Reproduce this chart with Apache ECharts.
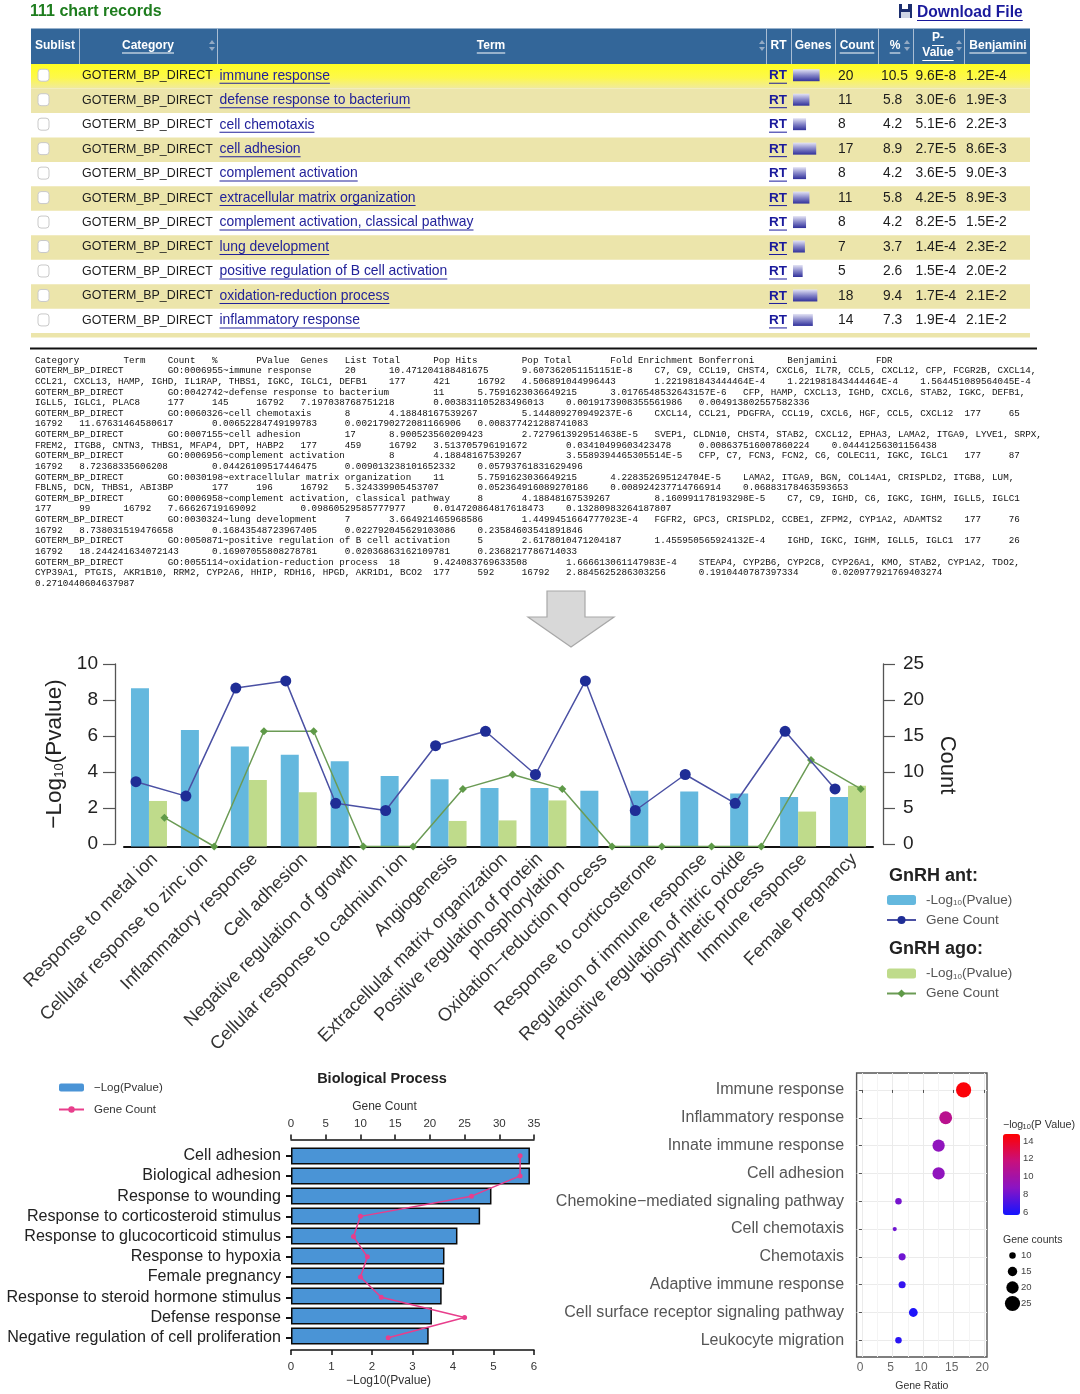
<!DOCTYPE html>
<html><head><meta charset="utf-8">
<style>html,body{margin:0;padding:0;background:#fff}#c{width:1080px;height:1394px}</style>
<script src="https://cdn.jsdelivr.net/npm/echarts@6/dist/echarts.min.js"></script>
</head><body><div id="c"></div>
<script>
// ---------- table data ----------
const tableHeaders = ['Sublist','Category','Term','RT','Genes','Count','%','P-\nValue','Benjamini'];
const tableTerms = ['immune response','defense response to bacterium','cell chemotaxis','cell adhesion','complement activation','extracellular matrix organization','complement activation, classical pathway','lung development','positive regulation of B cell activation','oxidation-reduction process','inflammatory response'];
const tableCounts = [20,11,8,17,8,11,8,7,5,18,14];
const tablePercents = ['10.5','5.8','4.2','8.9','4.2','5.8','4.2','3.7','2.6','9.4','7.3'];
const tablePvalues = ['9.6E-8','3.0E-6','5.1E-6','2.7E-5','3.6E-5','4.2E-5','8.2E-5','1.4E-4','1.5E-4','1.7E-4','1.9E-4'];
const tableBenjamini = ['1.2E-4','1.9E-3','2.2E-3','8.6E-3','9.0E-3','8.9E-3','1.5E-2','2.3E-2','2.0E-2','2.1E-2','2.1E-2'];
const exportLines = [
'Category\tTerm\tCount\t%\tPValue\tGenes\tList Total\tPop Hits\tPop Total\tFold Enrichment\tBonferroni\tBenjamini\tFDR',
'GOTERM_BP_DIRECT\tGO:0006955~immune response\t20\t10.471204188481675\t9.607362051151151E-8\tC7, C9, CCL19, CHST4, CXCL6, IL7R, CCL5, CXCL12, CFP, FCGR2B, CXCL14,',
'CCL21, CXCL13, HAMP, IGHD, IL1RAP, THBS1, IGKC, IGLC1, DEFB1\t177\t421\t16792\t4.506891044996443\t1.221981843444464E-4\t1.221981843444464E-4\t1.564451089564045E-4',
'GOTERM_BP_DIRECT\tGO:0042742~defense response to bacterium\t11\t5.7591623036649215\t3.0176548532643157E-6\tCFP, HAMP, CXCL13, IGHD, CXCL6, STAB2, IGKC, DEFB1,',
'IGLL5, IGLC1, PLAC8\t177\t145\t16792\t7.197038768751218\t0.003831105283496013\t0.0019173908355561986\t0.004913802557582336',
'GOTERM_BP_DIRECT\tGO:0060326~cell chemotaxis\t8\t4.18848167539267\t5.144809270949237E-6\tCXCL14, CCL21, PDGFRA, CCL19, CXCL6, HGF, CCL5, CXCL12\t177\t65',
'16792\t11.67631464580617\t0.00652284749199783\t0.0021790272081166906\t0.008377421288741083',
'GOTERM_BP_DIRECT\tGO:0007155~cell adhesion\t17\t8.900523560209423\t2.7279613929514638E-5\tSVEP1, CLDN10, CHST4, STAB2, CXCL12, EPHA3, LAMA2, ITGA9, LYVE1, SRPX,',
'FREM2, ITGB8, CNTN3, THBS1, MFAP4, DPT, HABP2\t177\t459\t16792\t3.513705796191672\t0.03410499603423478\t0.008637516007860224\t0.04441256301156438',
'GOTERM_BP_DIRECT\tGO:0006956~complement activation\t8\t4.18848167539267\t3.5589394465305514E-5\tCFP, C7, FCN3, FCN2, C6, COLEC11, IGKC, IGLC1\t177\t87',
'16792\t8.72368335606208\t0.04426109517446475\t0.009013238101652332\t0.05793761831629496',
'GOTERM_BP_DIRECT\tGO:0030198~extracellular matrix organization\t11\t5.7591623036649215\t4.228352695124704E-5\tLAMA2, ITGA9, BGN, COL14A1, CRISPLD2, ITGB8, LUM,',
'FBLN5, DCN, THBS1, ABI3BP\t177\t196\t16792\t5.324339905453707\t0.052364916089270186\t0.008924237714766914\t0.06883178463593653',
'GOTERM_BP_DIRECT\tGO:0006958~complement activation, classical pathway\t8\t4.18848167539267\t8.160991178193298E-5\tC7, C9, IGHD, C6, IGKC, IGHM, IGLL5, IGLC1',
'177\t99\t16792\t7.66626719169092\t0.09860529585777977\t0.014720864817618473\t0.13280983264187807',
'GOTERM_BP_DIRECT\tGO:0030324~lung development\t7\t3.664921465968586\t1.4499451664777023E-4\tFGFR2, GPC3, CRISPLD2, CCBE1, ZFPM2, CYP1A2, ADAMTS2\t177\t76',
'16792\t8.738031519476658\t0.16843548723967405\t0.022792045629103086\t0.23584603541891846',
'GOTERM_BP_DIRECT\tGO:0050871~positive regulation of B cell activation\t5\t2.6178010471204187\t1.455950565924132E-4\tIGHD, IGKC, IGHM, IGLL5, IGLC1\t177\t26',
'16792\t18.244241634072143\t0.16907055808278781\t0.02036863162109781\t0.2368217786714033',
'GOTERM_BP_DIRECT\tGO:0055114~oxidation-reduction process\t18\t9.424083769633508\t1.666613061147983E-4\tSTEAP4, CYP2B6, CYP2C8, CYP26A1, KMO, STAB2, CYP1A2, TDO2,',
'CYP39A1, PTGIS, AKR1B10, RRM2, CYP2A6, HHIP, RDH16, HPGD, AKR1D1, BCO2\t177\t592\t16792\t2.8845625286303256\t0.1910440787397334\t0.020977921769403274',
'0.2710440604637987'
];
// ---------- combo chart ----------
const comboCategories = ['Response to metal ion','Cellular response to zinc ion','Inflammatory response','Cell adhesion','Negative regulation of growth','Cellular response to cadmium ion','Angiogenesis','Extracellular matrix organization','Positive regulation of protein\nphosphorylation','Oxidation\u2212reduction process','Response to corticosterone','Regulation of immune response','Positive regulation of nitric oxide\nbiosynthetic process','Immune response','Female pregnancy'];
const antPvalue = [8.79,6.47,5.55,5.10,4.73,3.92,3.73,3.25,3.25,3.10,3.10,3.06,2.94,2.75,2.75];
const agoPvalue = [2.53,null,3.69,3.01,null,null,1.42,1.45,2.56,null,null,null,null,1.94,3.38];
const antCount = [9,7,22,23,6,5,14,16,10,23,5,10,6,16,8];
const agoCount = [4,0,16,16,0,0,8,10,8,0,0,0,0,12,8];
// ---------- biological process ----------
const bpTerms = ['Cell adhesion','Biological adhesion','Response to wounding','Response to corticosteroid stimulus','Response to glucocorticoid stimulus','Response to hypoxia','Female pregnancy','Response to steroid hormone stimulus','Defense response','Negative regulation of cell proliferation'];
const bpPvalue = [5.90,5.90,4.95,4.67,4.11,3.79,3.78,3.72,3.48,3.40];
const bpCount = [33,33,26,10,9,11,10,13,25,14];
// ---------- dot plot ----------
const dotTerms = ['Immune response','Inflammatory response','Innate immune response','Cell adhesion','Chemokine\u2212mediated signaling pathway','Cell chemotaxis','Chemotaxis','Adaptive immune response','Cell surface receptor signaling pathway','Leukocyte migration'];
const dotRatio = [16.63,13.7,12.54,12.54,5.97,5.36,6.57,6.57,8.4,5.97];
const dotLogP = [14.6,11,9,9,8.2,8,8,6.5,5.9,6.2];
const dotCounts = [25,21,20,20,10,6,11,11,14,10];
const sizeLegend = ['10','15','20','25'];
const colorTicks = [14,12,10,8,6];

const SANS = '"Liberation Sans",Arial,sans-serif';
const meas = document.createElement('canvas').getContext('2d');
const tw = (t,f)=>{meas.font=f;return meas.measureText(t).width;};
const g = [];
const txt = (t,x,y,font,fill,align,rot,extra)=>g.push({type:'text',silent:true,x,y,rotation:rot||0,z:5,
  style:Object.assign({text:t,font,fill,textAlign:align||'left',textVerticalAlign:'middle'},extra||{})});
const rect = (x,y,w,h,fill,z)=>g.push({type:'rect',silent:true,z:z||1,shape:{x,y,width:w,height:h},style:{fill}});
const linkTxt = (t,x,y,font,fill,align)=>{
  txt(t,x,y,font,fill,align);
  const w=tw(t,font); const x0= align==='center'? x-w/2 : x;
  rect(x0,y+7,w,1,fill,5);
};
// ---- table -----
txt('111 chart records',30,11.5,'bold 16px '+SANS,'#1e7d1e');
rect(899,4,13,14,'#1d2f6f',5); rect(902,4,6,5,'#fff',6); rect(901,12,9,6,'#cfd6e6',6);
linkTxt('Download File',917,13,'bold 15.6px '+SANS,'#1a1a9c');
const ROWY=64,ROWH=24.47,TX=31,TW=999;
rect(TX,28.5,TW,35.5,'#336699');
[79,217,766,791,835,878,913,964].forEach(x=>rect(x,28.5,1,35.5,'#a9bdd3',2));
const HF='bold 12px '+SANS;
txt('Sublist',55,45.5,HF,'#fff','center');
linkTxt('Category',148,45.5,HF,'#fff','center');
linkTxt('Term',491,45.5,HF,'#fff','center');
txt('RT',778.5,45.5,HF,'#fff','center');
txt('Genes',813,45.5,HF,'#fff','center');
linkTxt('Count',857,45.5,HF,'#fff','center');
linkTxt('%',895,45.5,HF,'#fff','center');
linkTxt('P-',938,38,HF,'#fff','center');
linkTxt('Value',938,53,HF,'#fff','center');
linkTxt('Benjamini',998,45.5,HF,'#fff','center');
[212,762,907,959].forEach(x=>{
  g.push({type:'polygon',silent:true,z:3,shape:{points:[[x-3,44],[x,40],[x+3,44]]},style:{fill:'#93a9c4'}});
  g.push({type:'polygon',silent:true,z:3,shape:{points:[[x-3,47],[x,51],[x+3,47]]},style:{fill:'#93a9c4'}});
});
tableTerms.forEach((t,i)=>{
  const y0=ROWY+i*ROWH, cy=y0+ROWH/2-1;
  if(i===0){
    g.push({type:'rect',silent:true,z:1,shape:{x:TX,y:y0,width:TW,height:ROWH},style:{fill:new echarts.graphic.LinearGradient(0,0,0,1,[{offset:0,color:'#ffff22'},{offset:.55,color:'#fdf84a'},{offset:1,color:'#f0ea9e'}])}});
  } else if(i%2===1){ rect(TX,y0,TW,ROWH,'#ece5ab'); }
  g.push({type:'rect',silent:true,z:3,shape:{x:38,y:cy-6,width:11,height:12,r:3},style:{fill:'#fff',stroke:'#c9c9c9',lineWidth:1}});
  txt('GOTERM_BP_DIRECT',82,cy+.5,'12.4px '+SANS,'#1c1c1c');
  linkTxt(t,219.5,cy+.5,'13.9px '+SANS,'#22229a');
  linkTxt('RT',769,cy+.5,'bold 13.5px '+SANS,'#1a1a9c');
  g.push({type:'rect',silent:true,z:3,shape:{x:793,y:cy-6,width:1.13*tableCounts[i]+4,height:12},style:{fill:new echarts.graphic.LinearGradient(0,0,0,1,[{offset:0,color:'#e4e4f5'},{offset:.5,color:'#8585c8'},{offset:1,color:'#30309a'}])}});
  const NF='13.8px '+SANS;
  txt(String(tableCounts[i]),838,cy+.5,NF,'#1c1c1c');
  txt(tablePercents[i],i===0?881:883,cy+.5,NF,'#1c1c1c');
  txt(tablePvalues[i],915.5,cy+.5,NF,'#1c1c1c');
  txt(tableBenjamini[i],966,cy+.5,NF,'#1c1c1c');
});
rect(TX,333,TW,4.5,'#ece5ab');
rect(30,347.5,1007,2,'#111');
// ---- text export ----
const expand = s=>{let o='';for(const ch of s){if(ch==='\t'){do{o+=' ';}while(o.length%8);}else o+=ch;}return o;};
exportLines.forEach((l,i)=>txt(expand(l),35,360.3+i*10.62,'9.22px "Liberation Mono",monospace','#111'));
// ---- arrow ----
g.push({type:'polygon',silent:true,z:2,shape:{points:[[547,591],[585,591],[585,617],[614,617],[571,647],[528,617],[547,617]]},style:{fill:'#d8d8d8',stroke:'#a8a8a8',lineWidth:1.2}});
// ---- combo legend titles -----
txt('GnRH ant:',889,876,'bold 18px '+SANS,'#222');
txt('GnRH ago:',889,949,'bold 18px '+SANS,'#222');
// ---- bp title -----
txt('Biological Process',382,1079,'bold 14.5px '+SANS,'#222','center');
txt('\u2212log',1003,1125,'10.5px '+SANS,'#333');
txt('10',1022.5,1127,'7.5px '+SANS,'#333');
txt('(P Value)',1031,1125,'10.8px '+SANS,'#333');
colorTicks.forEach((v,i)=>txt(String(v),1023,1141+i*17.75,'9.5px '+SANS,'#444'));
txt('Gene counts',1003,1240,'10.5px '+SANS,'#333');

const sub = {a:{fontSize:22.6,fontFamily:SANS,color:'#222'},s:{fontSize:13,fontFamily:SANS,color:'#222',padding:[10,0,0,0]}};
const hide = {show:false};
const N_A='GnRH ant \u2212Log10(Pvalue)',N_B='GnRH ant Gene Count',N_C='GnRH ago \u2212Log10(Pvalue)',N_D='GnRH ago Gene Count';
const legFmt = n=> n.indexOf('Gene Count')>=0 ? '{t|Gene Count}' : '{t|-Log}{u|10}{t|(Pvalue)}';
const legRich = {t:{fontSize:13.5,fontFamily:SANS,color:'#555'},u:{fontSize:8,fontFamily:SANS,color:'#555',padding:[6,0,0,0]}};
const mkLeg = (names,top)=>({show:true,orient:'vertical',left:886,top,itemWidth:29,itemHeight:10,itemGap:6,selectedMode:false,data:names,formatter:legFmt,textStyle:{rich:legRich,color:'#555',padding:[0,0,0,5]},padding:0});
const NB='none';

const option = {
  animation:false,
  backgroundColor:'#fff',
  graphic:{elements:g},
  legend:[
    mkLeg([N_A,N_B],893),
    mkLeg([N_C,N_D],966.5),
    {show:true,orient:'vertical',left:58,top:1081.5,itemWidth:25,itemHeight:8,itemGap:10,selectedMode:false,padding:0,itemStyle:{borderWidth:0},
     data:['\u2212Log(Pvalue)','Gene Count'],textStyle:{fontSize:11.5,fontFamily:SANS,color:'#333',padding:[0,0,0,5]}}
  ],
  grid:[
    {outerBoundsMode:NB,left:124,width:749,top:666.5,height:180},   // 0 combo bars
    {outerBoundsMode:NB,left:115,width:768,top:664,height:180},     // 1 visible y axes
    {outerBoundsMode:NB,left:130,width:749,top:666.5,height:180},   // 2 rotated labels
    {outerBoundsMode:NB,left:111,width:749,top:666.5,height:180},   // 3 blue line
    {outerBoundsMode:NB,left:139.6,width:746,top:666.5,height:180}, // 4 green line
    {outerBoundsMode:NB,left:291,width:243,top:1146,height:200},    // 5 bp bars
    {outerBoundsMode:NB,left:291,width:243,top:1145.6,height:202.2},// 6 bp line
    {outerBoundsMode:NB,left:856.6,width:130.4,top:1073,height:284,show:true,borderColor:'#555',borderWidth:1.4,backgroundColor:'#fff'}, // 7 dots
    {outerBoundsMode:NB,left:1005,width:15,top:1247.5,height:64}    // 8 size legend
  ],
  xAxis:[
    {gridIndex:0,type:'category',data:comboCategories,axisLine:{lineStyle:{color:'#111',width:2}},axisTick:{length:12,lineStyle:{color:'#333',width:1.2}},axisLabel:hide},
    {gridIndex:1,type:'value',min:0,max:1,show:false},
    {gridIndex:2,type:'category',data:comboCategories,axisLine:hide,axisTick:hide,axisLabel:{interval:0,rotate:45,margin:10,fontSize:18.2,lineHeight:21,fontFamily:SANS,color:'#333',
      formatter:v=>v.indexOf('protein\n')>=0?v.replace('\n','\u00a0\u00a0\n'):v.indexOf('oxide\n')>=0?v.replace('\n','\u00a0\n'):v}},
    {gridIndex:3,type:'category',data:comboCategories,show:false},
    {gridIndex:4,type:'category',data:comboCategories,show:false},
    {gridIndex:5,type:'value',min:0,max:6,interval:1,position:'bottom',offset:4,splitLine:hide,
      name:'\u2212Log10(Pvalue)',nameLocation:'middle',nameGap:25,nameTextStyle:{fontSize:12,fontFamily:SANS,color:'#333',padding:[0,48,0,0]},
      axisLine:{show:true,lineStyle:{color:'#111',width:1.5}},axisTick:{show:true,length:5,lineStyle:{color:'#111',width:1.5}},axisLabel:{margin:11,fontSize:11.5,fontFamily:SANS,color:'#333'}},
    {gridIndex:6,type:'value',min:0,max:35,interval:5,position:'top',offset:6,splitLine:hide,
      name:'Gene Count',nameLocation:'middle',nameGap:27,nameTextStyle:{fontSize:12,fontFamily:SANS,color:'#333',padding:[0,56,0,0]},
      axisLine:{show:true,lineStyle:{color:'#111',width:1.5}},axisTick:{show:true,length:5,lineStyle:{color:'#111',width:1.5}},axisLabel:{margin:10,fontSize:11.5,fontFamily:SANS,color:'#333'}},
    {gridIndex:7,type:'value',min:-0.88,max:20.46,position:'bottom',
      name:'Gene Ratio',nameLocation:'middle',nameGap:24,nameTextStyle:{fontSize:10.5,fontFamily:SANS,color:'#333'},
      axisLine:hide,axisTick:{show:true,length:3,customValues:[0,5,10,15,20],lineStyle:{color:'#555'}},
      axisLabel:{show:true,customValues:[0,5,10,15,20],margin:5,fontSize:12,fontFamily:SANS,color:'#666',padding:[0,4,0,0]},
      splitLine:{show:true,lineStyle:{color:'#ebebeb',width:1}}},
    {gridIndex:8,type:'value',min:0,max:1,show:false},
    {gridIndex:7,type:'value',min:-0.88,max:20.46,position:'top',
      axisLine:hide,axisTick:{show:false,customValues:[2.5,7.5,12.5,17.5]},axisLabel:{show:false,customValues:[2.5,7.5,12.5,17.5]},
      splitLine:{show:true,lineStyle:{color:'#f4f4f4',width:1}}}
  ],
  yAxis:[
    {gridIndex:0,type:'value',min:0,max:10,show:false},
    {gridIndex:1,type:'value',min:0,max:10,interval:2,position:'left',splitLine:hide,
      name:'{a|\u2212Log}{s|10}{a|(Pvalue)}',nameLocation:'middle',nameGap:49,nameRotate:90,nameTextStyle:{rich:sub},
      axisLine:{show:true,lineStyle:{color:'#555',width:1.3}},axisTick:{show:true,length:12,lineStyle:{color:'#555',width:1.2}},axisLabel:{margin:17,fontSize:19,fontFamily:SANS,color:'#222'}},
    {gridIndex:1,type:'value',min:0,max:25,interval:5,position:'right',splitLine:hide,
      name:'Count',nameLocation:'middle',nameGap:53,nameRotate:-90,nameTextStyle:{fontSize:22,fontFamily:SANS,color:'#222',padding:[0,0,0,22]},
      axisLine:{show:true,lineStyle:{color:'#555',width:1.3}},axisTick:{show:true,length:12,lineStyle:{color:'#555',width:1.2}},axisLabel:{margin:20,fontSize:19,fontFamily:SANS,color:'#222'}},
    {gridIndex:2,type:'value',min:0,max:10,show:false},
    {gridIndex:3,type:'value',min:0,max:25,show:false},
    {gridIndex:4,type:'value',min:0,max:25,show:false},
    {gridIndex:5,type:'category',inverse:true,data:bpTerms,show:false},
    {gridIndex:6,type:'category',inverse:true,data:bpTerms,axisLine:hide,axisTick:{show:true,length:5,alignWithLabel:true,lineStyle:{color:'#111',width:2}},
      axisLabel:{interval:0,margin:10,fontSize:16.1,fontFamily:SANS,color:'#222',padding:[0,0,4,0]}},
    {gridIndex:7,type:'value',min:-0.61,max:9.6,inverse:true,
      axisLine:hide,axisTick:{show:true,length:3,customValues:[0,1,2,3,4,5,6,7,8,9],lineStyle:{color:'#555'}},
      axisLabel:{show:true,customValues:[0,1,2,3,4,5,6,7,8,9],margin:12.5,fontSize:16.05,fontFamily:SANS,color:'#555',padding:[0,0,3,0],formatter:v=>dotTerms[v]},
      splitLine:{show:true,lineStyle:{color:'#ebebeb',width:1.2}}},
    {gridIndex:8,type:'category',inverse:true,data:sizeLegend,position:'right',axisLine:hide,axisTick:hide,axisLabel:{margin:1,fontSize:9.5,fontFamily:SANS,color:'#444'}}
  ],
  visualMap:[{type:'continuous',seriesIndex:7,dimension:2,min:5.65,max:14.8,calculable:false,left:1003,top:1134,itemWidth:17,itemHeight:81,text:null,showLabel:false,
    inRange:{color:['#1414ff','#8a14c4','#c8107c','#ff0000']},textStyle:{fontSize:0},padding:0,hoverLink:false}],
  series:[
    {name:N_A,type:'bar',xAxisIndex:0,yAxisIndex:0,data:antPvalue,barWidth:18,barGap:'0%',itemStyle:{color:'#64B8DE'},z:2},
    {name:N_C,type:'bar',xAxisIndex:0,yAxisIndex:0,data:agoPvalue,barWidth:18,barGap:'0%',itemStyle:{color:'#BFDB8B'},z:2},
    {name:N_B,type:'line',xAxisIndex:3,yAxisIndex:4,data:antCount,symbol:'circle',symbolSize:11,lineStyle:{color:'#4a50a3',width:1.5},itemStyle:{color:'#1f2d96'},z:5},
    {name:N_D,type:'line',xAxisIndex:4,yAxisIndex:5,data:agoCount,symbol:'diamond',symbolSize:8,lineStyle:{color:'#6b9b55',width:1.5},itemStyle:{color:'#5f9a48'},z:4},
    {name:'\u2212Log(Pvalue)',type:'bar',xAxisIndex:5,yAxisIndex:6,data:bpPvalue,barWidth:17,itemStyle:{color:'#4a94d6',borderColor:'#0a0a0a',borderWidth:1.5},z:2},
    {name:'Gene Count',type:'line',xAxisIndex:6,yAxisIndex:7,data:bpCount,symbol:'circle',symbolSize:5,lineStyle:{color:'#e83e8c',width:1.5},itemStyle:{color:'#e83e8c'},z:5},
    {name:'sizeLegend',type:'scatter',xAxisIndex:8,yAxisIndex:9,data:[0,1,2,3].map(i=>[0.5,sizeLegend[i]]),symbol:'circle',symbolSize:d=>0.58*(+d[1])+0.7,itemStyle:{color:'#000',opacity:1},z:5},
    {name:'Gene Ratio',type:'scatter',xAxisIndex:7,yAxisIndex:8,data:dotRatio.map((x,i)=>[x,i,dotLogP[i],dotCounts[i]]),symbol:'circle',symbolSize:d=>0.58*d[3]+0.7,itemStyle:{opacity:1},z:5}
  ]
};
const chart = echarts.init(document.getElementById('c'),null,{renderer:'canvas'});
chart.setOption(option);
</script></body></html>
